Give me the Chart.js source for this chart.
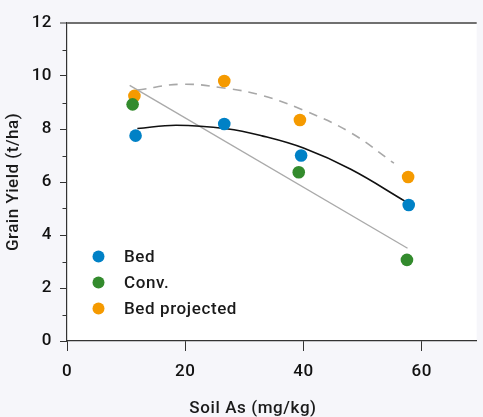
<!DOCTYPE html>
<html>
<head>
<meta charset="utf-8">
<script src="https://cdn.jsdelivr.net/npm/chart.js@4"></script>
<style>
  html, body { margin: 0; padding: 0; background: #f6f6fa; }
  #wrap { width: 483px; height: 417px; position: relative; }
</style>
</head>
<body>
<div id="wrap"><canvas id="c" width="483" height="417"></canvas></div>
<script>
// ---- data ----
const seriesLabels = ['Bed', 'Conv.', 'Bed projected'];
const bedX  = [11.6, 26.6, 39.6, 57.8];
const bedY  = [7.75, 8.19, 7.00, 5.13];
const convX = [11.1, 39.2, 57.5];
const convY = [8.93, 6.37, 3.06];
const projX = [11.4, 26.6, 39.4, 57.7];
const projY = [9.25, 9.81, 8.34, 6.19];
// fitted trend lines
const bedFitX  = [11.9, 18.5, 27, 33, 40, 48, 57.3];
const bedFitY  = [8.02, 8.14, 8.01, 7.74, 7.28, 6.48, 5.26];
const projFitX = [11.9, 19.5, 27, 33, 40, 48, 55.3];
const projFitY = [9.47, 9.69, 9.53, 9.27, 8.71, 7.86, 6.71];
const convFitX = [10.6, 57.6];
const convFitY = [9.65, 3.50];
const xTicks = [0, 20, 40, 60];
const yTicks = [0, 2, 4, 6, 8, 10, 12];
const xTitle = 'Soil As (mg/kg)';
const yTitle = 'Grain Yield (t/ha)';

const colors = ['#0081c6', '#338b2d', '#f59a00'];
const pts = (xs, ys) => xs.map((x, i) => ({x, y: ys[i]}));
const FONT = 'Roboto, "DejaVu Sans", sans-serif';

const bgPlugin = {
  id: 'bg',
  beforeDraw(chart) {
    const {ctx, chartArea: a} = chart;
    ctx.save();
    ctx.fillStyle = '#f6f6fa';
    ctx.fillRect(0, 0, chart.width, chart.height);
    ctx.fillStyle = '#ffffff';
    ctx.fillRect(a.left, a.top, a.right - a.left, a.bottom - a.top);
    ctx.restore();
    ctx.letterSpacing = '0.5px';
  }
};

const minorPlugin = {
  id: 'minor',
  afterDraw(chart) {
    const {ctx, chartArea: a} = chart;
    const y = chart.scales.y;
    ctx.save();
    ctx.strokeStyle = '#333';
    ctx.lineWidth = 1;
    for (let v = 1; v < 12; v += 2) {
      const py = Math.round(y.getPixelForValue(v)) + 0.5;
      ctx.beginPath();
      ctx.moveTo(a.left - 4.5, py);
      ctx.lineTo(a.left, py);
      ctx.stroke();
    }
    // x axis title
    ctx.letterSpacing = '0.6px';
    ctx.fillStyle = '#1a1a1a';
    ctx.font = '500 17px ' + FONT;
    ctx.textAlign = 'center';
    ctx.textBaseline = 'middle';
    ctx.fillText(xTitle, a.left + 186, 409);
    // legend
    ctx.font = '500 17px ' + FONT;
    ctx.textAlign = 'left';
    seriesLabels.forEach((lab, i) => {
      const cy = 256.5 + i * 26;
      ctx.fillStyle = colors[i];
      ctx.beginPath();
      ctx.arc(a.left + 31.5, cy, 6, 0, Math.PI * 2);
      ctx.fill();
      ctx.fillStyle = '#1a1a1a';
      ctx.fillText(lab, a.left + 57, cy + 1);
    });
    ctx.restore();
  }
};

new Chart(document.getElementById('c'), {
  type: 'scatter',
  data: {
    datasets: [
      {label: seriesLabels[0], data: pts(bedX, bedY), backgroundColor: colors[0], pointRadius: 6.3, borderWidth: 0, pointHoverRadius: 6},
      {label: seriesLabels[1], data: pts(convX, convY), backgroundColor: colors[1], pointRadius: 6.3, borderWidth: 0, pointHoverRadius: 6},
      {label: seriesLabels[2], data: pts(projX, projY), backgroundColor: colors[2], pointRadius: 6.3, borderWidth: 0, pointHoverRadius: 6},
      {label: 'bed fit', type: 'line', data: pts(bedFitX, bedFitY), borderColor: '#111', borderWidth: 1.6, pointRadius: 0, tension: 0.4, fill: false},
      {label: 'proj fit', type: 'line', data: pts(projFitX, projFitY), borderColor: '#a8a8a8', borderWidth: 1.6, borderDash: [9, 7], pointRadius: 0, tension: 0.4, fill: false},
      {label: 'conv fit', type: 'line', data: pts(convFitX, convFitY), borderColor: '#aaaaaa', borderWidth: 1.4, pointRadius: 0, tension: 0, fill: false}
    ]
  },
  options: {
    responsive: false,
    animation: false,
    layout: {padding: {top: 23, right: 0, left: 0, bottom: 0}},
    plugins: {legend: {display: false}, tooltip: {enabled: false}},
    scales: {
      x: {
        type: 'linear', min: 0, max: 69.3,
        afterBuildTicks(s) { s.ticks = xTicks.map(v => ({value: v})); },
        afterFit(s) { s.height = 76; },
        grid: {drawOnChartArea: false, tickLength: 10, tickColor: '#333', tickWidth: 1},
        border: {color: '#333', width: 1.2},
        ticks: {font: {family: FONT, size: 17, weight: '500'}, color: '#111', padding: 11, maxRotation: 0},
        title: {display: false}
      },
      y: {
        type: 'linear', min: 0, max: 12,
        afterBuildTicks(s) { s.ticks = yTicks.map(v => ({value: v})); },
        afterFit(s) { s.width = 67; },
        grid: {
          drawOnChartArea: true, tickLength: 7,
          color: (c) => (c.tick && c.tick.value === 12) ? '#707070' : 'rgba(0,0,0,0)',
          lineWidth: (c) => (c.tick && c.tick.value === 12) ? 2 : 1,
          tickColor: '#333', tickWidth: 1
        },
        border: {color: '#333', width: 1.2},
        ticks: {font: {family: FONT, size: 17, weight: '500'}, color: '#111', padding: 8},
        title: {display: true, text: yTitle, font: {family: FONT, size: 17, weight: '500'}, color: '#1a1a1a', padding: {top: 4, bottom: 0}}
      }
    }
  },
  plugins: [bgPlugin, minorPlugin]
});
</script>
</body>
</html>
